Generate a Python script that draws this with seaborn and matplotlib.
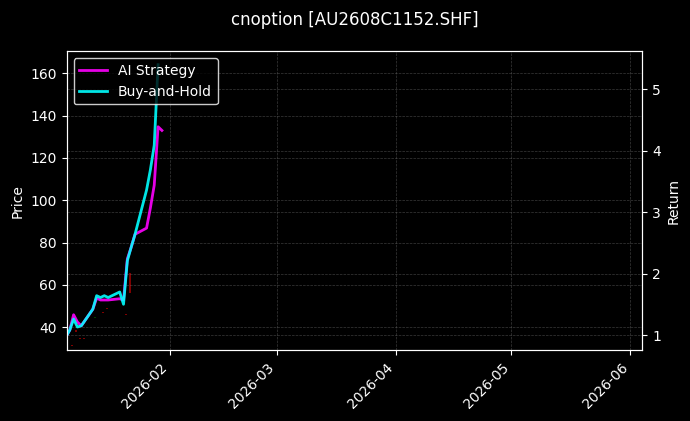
import pandas as pd
import numpy as np
import matplotlib
matplotlib.use("Agg")
import matplotlib.pyplot as plt
import matplotlib.dates as mdates
import seaborn as sns

# --- data ---
trade_days = ["2026-01-05", "2026-01-06", "2026-01-07", "2026-01-08", "2026-01-09",
              "2026-01-12", "2026-01-13", "2026-01-14", "2026-01-15", "2026-01-16",
              "2026-01-19", "2026-01-20", "2026-01-21", "2026-01-22", "2026-01-23",
              "2026-01-26", "2026-01-27", "2026-01-28", "2026-01-29", "2026-01-30"]
ai_return = [0.97, 1.08, 1.33, 1.21, 1.15, 1.42, 1.60, 1.57, 1.57, 1.57,
             1.59, 1.57, 2.24, 2.43, 2.64, 2.74, 3.07, 3.44, 4.39, 4.33]
bh_return = [0.97, 1.08, 1.26, 1.13, 1.15, 1.42, 1.64, 1.61, 1.64, 1.61,
             1.70, 1.50, 2.21, 2.43, 2.64, 3.36, 3.69, 4.09, 5.40, np.nan]

# faint candles (only the few that show up), stamped at the 15:00 close
candle_days = ["2026-01-06 15:00", "2026-01-07 15:00", "2026-01-08 15:00",
               "2026-01-09 15:00", "2026-01-12 15:00", "2026-01-14 15:00",
               "2026-01-15 15:00", "2026-01-20 15:00", "2026-01-21 15:00"]
candle_open = [31.5, 38.5, 35.0, 35.0, 44.2, 47.3, 49.3, 46.3, 65.6]
candle_close = [31.0, 37.8, 34.4, 34.4, 44.8, 46.8, 48.8, 45.8, 56.2]

df = pd.DataFrame({"date": pd.to_datetime(trade_days),
                   "AI Strategy": ai_return,
                   "Buy-and-Hold": bh_return})
long_df = df.melt(id_vars="date", var_name="series", value_name="ret").dropna()

cdf = pd.DataFrame({"date": pd.to_datetime(candle_days),
                    "open": candle_open, "close": candle_close})

plt.style.use("dark_background")
plt.rcParams["font.family"] = ["DejaVu Sans"]

fig, ax = plt.subplots(figsize=(6.9, 4.21), dpi=100)
fig.subplots_adjust(left=0.0967, right=0.931, bottom=0.1675, top=0.8777)

# candles on the price axis
up = cdf["close"] >= cdf["open"]
ax.bar(cdf["date"], (cdf["close"] - cdf["open"]).abs(),
       bottom=cdf[["open", "close"]].min(axis=1), width=0.5,
       color=np.where(up, "green", "red"), alpha=0.5, linewidth=0)
ax.set_ylim(29.0, 170.3)
ax.set_ylabel("Price")
ax.grid(True, linestyle="--", linewidth=0.5, alpha=0.45, color="gray")

ax2 = ax.twinx()
sns.lineplot(data=long_df, x="date", y="ret", hue="series",
             palette={"AI Strategy": "magenta", "Buy-and-Hold": "cyan"},
             linewidth=2, alpha=0.9, ax=ax2)
ax2.set_ylim(0.748, 5.615)
ax2.set_ylabel("Return")
ax2.grid(True, linestyle="--", linewidth=0.5, alpha=0.45, color="gray")
ax2.legend(loc="upper left", facecolor="black", edgecolor="white", framealpha=0.8)

ax.set_xlim(pd.Timestamp("2026-01-05 05:00"), pd.Timestamp("2026-06-04 03:00"))
ax.xaxis.set_major_locator(mdates.MonthLocator())
ax.xaxis.set_major_formatter(mdates.DateFormatter("%Y-%m"))
ax.set_xlabel("")
ax2.set_xlabel("")
plt.setp(ax.get_xticklabels(), rotation=45, ha="right")

ax.set_title("cnoption [AU2608C1152.SHF]", fontsize=12, pad=19)
fig.savefig("out.png", dpi=100)
